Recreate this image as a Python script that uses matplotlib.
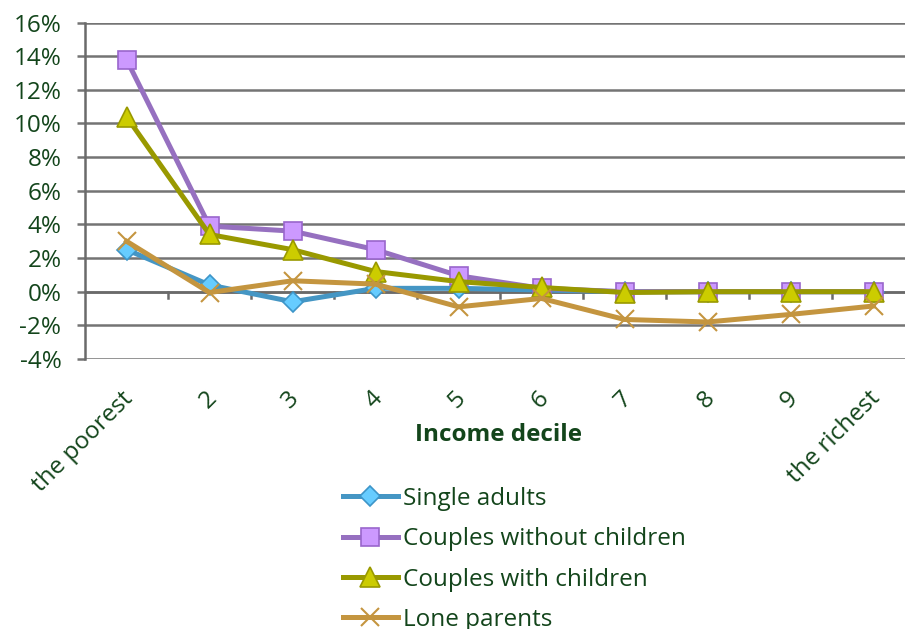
import numpy as np
import matplotlib.pyplot as plt
from matplotlib.ticker import FuncFormatter
from matplotlib.transforms import ScaledTranslation

deciles = ['the poorest', '2', '3', '4', '5', '6', '7', '8', '9', 'the richest']
single_adults = [2.5, 0.4, -0.6, 0.2, 0.2, 0.1, 0.0, 0.0, 0.0, 0.0]
couples_no_kids = [13.8, 3.9, 3.6, 2.5, 0.95, 0.2, 0.0, 0.0, 0.0, 0.0]
couples_kids = [10.4, 3.4, 2.5, 1.2, 0.6, 0.25, -0.05, 0.0, 0.0, 0.0]
lone_parents = [3.0, -0.05, 0.65, 0.45, -0.9, -0.4, -1.65, -1.8, -1.35, -0.85]

txt = '#13451b'
fs = 17.5
plt.rcParams['font.family'] = ['Open Sans', 'DejaVu Sans']

fig = plt.figure(figsize=(9.05, 6.29), dpi=100)
ax = fig.add_axes([85/905, 1-359/629, 830/905, (359-22.5)/629])

x = np.arange(len(deciles))
ax.plot(x, single_adults, color='#4596c4', lw=3.6, marker='D', ms=10,
        mfc='#66ccff', mec='#3d95c8', mew=1.2, label='Single adults', zorder=3)
ax.plot(x, couples_no_kids, color='#9670c0', lw=3.6, marker='s', ms=13,
        mfc='#cc99ff', mec='#9966cc', mew=1.2, label='Couples without children', zorder=4)
ax.plot(x, couples_kids, color='#999900', lw=3.6, marker='^', ms=14,
        mfc='#cccc00', mec='#999900', mew=1.2, label='Couples with children', zorder=5)
ax.plot(x, lone_parents, color='#c4953f', lw=3.6, marker='x', ms=13,
        mec='#c4953f', mew=1.5, label='Lone parents', zorder=6)

ax.set_xlim(-0.5, len(deciles) - 0.5)
ax.set_ylim(-4, 16)
ax.set_yticks(np.arange(-4, 17, 2))
ax.yaxis.set_major_formatter(FuncFormatter(lambda v, p: '%d%%' % v))
ax.grid(axis='y', color='#747474', lw=1.8)
ax.set_axisbelow(True)
for s in ['top', 'right', 'bottom']:
    ax.spines[s].set_visible(False)
ax.spines['left'].set_color('#6a6a6a')
ax.spines['left'].set_linewidth(1.8)
ax.tick_params(axis='y', length=6, width=1.8, color='#747474', labelsize=fs,
               labelcolor=txt, pad=11)

# x axis line at zero with ticks between categories
ax.axhline(0, color='#6a6a6a', lw=1.8, zorder=1)
for b in np.arange(0.5, len(deciles) - 0.5, 1):
    ax.plot([b, b], [0, -0.4], color='#6a6a6a', lw=1.8, zorder=1)
ax.set_xticks(x)
ax.set_xticklabels(deciles, rotation=45, ha='right', rotation_mode='anchor')
ax.tick_params(axis='x', length=0, labelsize=fs, labelcolor=txt, pad=20)
shift = ScaledTranslation(-5/100, 0, fig.dpi_scale_trans)
for lab in ax.get_xticklabels():
    lab.set_transform(lab.get_transform() + shift)
fig.text(498/905, 1-435/629, 'Income decile', fontsize=fs, fontweight='bold',
         color=txt, ha='center', va='center')

fig.legend(loc='upper left', bbox_to_anchor=(343/905, 1-487/629), frameon=False,
           fontsize=fs, labelcolor=txt, handlelength=2.25, handletextpad=0.2,
           labelspacing=0.67, borderpad=0, borderaxespad=0)

fig.savefig('out.png', dpi=100)
